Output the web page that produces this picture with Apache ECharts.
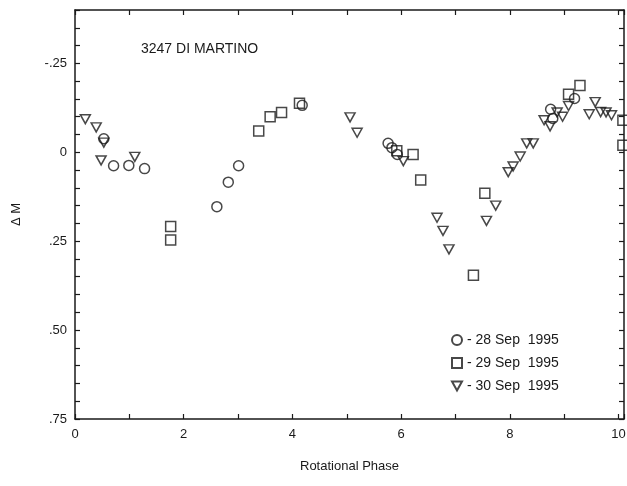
<!DOCTYPE html>
<html>
<head>
<meta charset="utf-8">
<script src="https://cdn.jsdelivr.net/npm/echarts@6/dist/echarts.min.js"></script>
<style>
html,body{margin:0;padding:0;background:#fff;}
#chart{width:627px;height:486px;}
</style>
</head>
<body>
<div id="chart"></div>
<script>
// Rotational phase (x) and delta magnitude (y, mag) per night
var sep28X = [0.53, 0.71, 0.99, 1.28, 2.61, 2.82, 3.01, 4.18, 5.76, 5.83, 5.93, 8.75, 8.79, 9.19];
var sep28Y = [-0.038, 0.038, 0.037, 0.046, 0.153, 0.084, 0.038, -0.132, -0.025, -0.013, 0.006, -0.121, -0.095, -0.151];

var sep29X = [1.76, 1.76, 3.38, 3.59, 3.80, 4.13, 5.92, 6.22, 6.36, 7.33, 7.54, 9.08, 9.29, 10.08, 10.08];
var sep29Y = [0.209, 0.247, -0.060, -0.100, -0.112, -0.138, -0.004, 0.006, 0.078, 0.346, 0.115, -0.163, -0.188, -0.090, -0.020];

var sep30X = [0.19, 0.39, 0.53, 0.48, 1.10, 5.06, 5.19, 6.04, 6.66, 6.77, 6.88, 7.57, 7.74, 7.97, 8.06, 8.19, 8.31, 8.43, 8.63, 8.74, 8.87, 8.97, 9.08, 9.46, 9.57, 9.67, 9.77, 9.87];
var sep30Y = [-0.093, -0.070, -0.027, 0.023, 0.013, -0.098, -0.055, 0.025, 0.184, 0.221, 0.273, 0.193, 0.150, 0.056, 0.040, 0.012, -0.025, -0.025, -0.090, -0.073, -0.112, -0.100, -0.130, -0.107, -0.141, -0.113, -0.112, -0.104];

var seriesNames = ['28 Sep 1995', '29 Sep 1995', '30 Sep 1995'];
var yLabels = {'-25': '-.25', '0': '0', '25': '.25', '50': '.50', '75': '.75'};
var xLabels = [0, 2, 4, 6, 8, 10];
var titleText = '3247 DI MARTINO';
var xName = 'Rotational Phase';
var yName = '\u0394 M';

function zip(xs, ys) { return xs.map(function (x, i) { return [x, ys[i]]; }); }

var INK = '#1a1a1a';
var FONT = '"Liberation Sans", Arial, Helvetica, sans-serif';
var triPath = 'path://M0,0 L10,0 L5,9 Z';

var markerStyle = { color: 'rgba(255,255,255,0)', borderColor: INK, borderWidth: 1.5 };

var chart = echarts.init(document.getElementById('chart'), null, { renderer: 'canvas' });

var frameAxis = {
  axisLine: { show: true, onZero: false, lineStyle: { color: INK, width: 1.5 } },
  axisTick: { show: true, inside: true, length: 5, lineStyle: { color: INK, width: 1.2 } },
  splitLine: { show: false },
  axisLabel: { show: false }
};

var option = {
  animation: false,
  backgroundColor: '#fff',
  textStyle: { fontFamily: FONT },
  title: {
    text: titleText,
    left: 136, top: 37,
    textStyle: { fontSize: 14, fontWeight: 'normal', color: INK, fontFamily: FONT }
  },
  grid: { left: 75, top: 10, width: 549, height: 409, containLabel: false, outerBoundsMode: 'none' },
  xAxis: [
    Object.assign({}, frameAxis, {
      type: 'value', min: 0, max: 10.1, interval: 1, position: 'bottom',
      name: xName, nameLocation: 'middle', nameGap: 41,
      nameTextStyle: { fontSize: 13, color: INK, fontFamily: FONT },
      axisLabel: {
        show: true, margin: 9, fontSize: 13, color: INK, fontFamily: FONT,
        formatter: function (v) {
          var r = Math.round(v);
          return (Math.abs(v - r) < 1e-6 && xLabels.indexOf(r) >= 0) ? String(r) : '';
        }
      }
    }),
    Object.assign({}, frameAxis, { type: 'value', min: 0, max: 10.1, interval: 1, position: 'top' })
  ],
  yAxis: [
    Object.assign({}, frameAxis, {
      type: 'value', min: -0.40, max: 0.75, interval: 0.05, inverse: true, position: 'left',
      name: yName, nameLocation: 'middle', nameGap: 52, nameRotate: 90,
      nameTextStyle: { fontSize: 13, color: INK, fontFamily: FONT },
      axisLabel: {
        show: true, margin: 8, fontSize: 13, color: INK, fontFamily: FONT,
        formatter: function (v) {
          var k = String(Math.round(v * 100));
          return (Math.abs(v * 100 - Math.round(v * 100)) < 1e-6 && yLabels[k] !== undefined) ? yLabels[k] : '';
        }
      }
    }),
    Object.assign({}, frameAxis, { type: 'value', min: -0.40, max: 0.75, interval: 0.05, inverse: true, position: 'right' })
  ],
  legend: {
    orient: 'vertical',
    left: 446, top: 328,
    itemWidth: 10, itemHeight: 10, itemGap: 9,
    data: seriesNames,
    formatter: function (n) { return '- ' + n.replace(' 1995', '  1995'); },
    textStyle: { fontSize: 14, color: INK, fontFamily: FONT }
  },
  series: [
    { name: seriesNames[0], type: 'scatter', xAxisIndex: 0, yAxisIndex: 0, symbol: 'circle', symbolSize: 10,
      itemStyle: markerStyle, data: zip(sep28X, sep28Y), clip: false },
    { name: seriesNames[1], type: 'scatter', xAxisIndex: 0, yAxisIndex: 0, symbol: 'rect', symbolSize: 10,
      itemStyle: markerStyle, data: zip(sep29X, sep29Y), clip: false },
    { name: seriesNames[2], type: 'scatter', xAxisIndex: 0, yAxisIndex: 0, symbol: triPath, symbolSize: [10, 9],
      itemStyle: markerStyle, data: zip(sep30X, sep30Y), clip: false }
  ]
};
chart.setOption(option);
</script>
</body>
</html>
